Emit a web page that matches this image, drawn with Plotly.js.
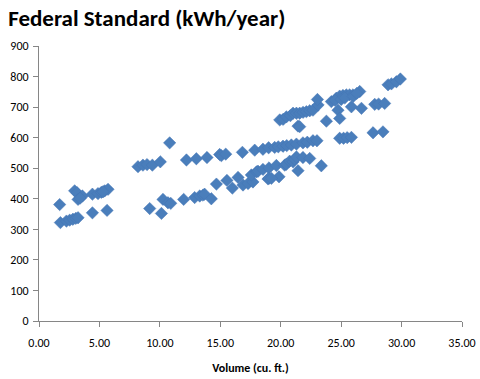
<!DOCTYPE html>
<html>
<head>
<meta charset="utf-8">
<script src="https://cdn.plot.ly/plotly-3.0.1.min.js"></script>
<style>html,body{margin:0;padding:0;background:#fff;}#chart{width:480px;height:379px;}</style>
</head>
<body>
<div id="chart"></div>
<script>
// Volume (cu. ft.)
const volume = [
  1.71,1.77,2.27,2.54,2.81,3.05,3.23,
  2.95,3.15,3.23,3.59,3.40,
  4.42,4.88,5.16,5.44,5.71,5.30,
  4.42,5.63,
  8.19,8.60,8.94,9.38,10.04,10.81,
  9.16,10.13,10.26,10.67,10.90,
  11.97,12.20,12.88,13.02,13.30,13.57,13.70,13.90,14.26,
  14.68,14.95,15.09,15.45,15.55,16.00,16.47,16.83,
  16.88,17.30,17.70,17.57,17.99,18.12,18.53,19.03,18.95,19.03,
  17.85,18.53,19.00,19.50,19.80,20.19,20.50,20.88,21.30,21.84,22.20,22.67,23.00,
  19.64,19.86,19.23,20.33,20.47,20.74,21.02,21.16,21.30,21.84,22.40,21.43,23.36,
  19.92,20.20,20.47,20.80,21.02,21.30,21.57,21.85,22.12,22.40,22.67,23.09,23.04,21.43,21.57,23.78,
  24.19,24.60,24.88,25.15,25.43,25.70,25.98,26.54,24.74,24.88,25.85,26.68,27.78,28.10,28.60,
  24.50,25.00,25.30,26.00,26.30,
  28.88,29.16,29.57,29.90,
  24.88,25.20,25.50,25.85,27.64,28.46
];
// Federal Standard (kWh/year)
const standard = [
  381,322,327,330,333,336,338,
  426,420,398,409,402,
  415,417,421,426,431,423,
  354,362,
  505,510,512,510,521,583,
  368,352,398,387,385,
  398,527,404,531,409,412,415,535,400,
  448,545,541,546,460,435,470,552,
  445,450,455,478,488,490,496,501,465,467,
  559,562,567,568,570,572,574,576,579,583,585,590,590,
  509,472,467,510,513,523,521,529,537,535,532,492,508,
  658,660,668,672,680,680,680,683,685,688,690,707,725,638,636,654,
  718,729,736,738,740,740,740,751,690,663,701,696,709,710,712,
  722,725,730,735,745,
  773,776,783,792,
  598,598,600,601,616,619
];
const xTicks = [0,5,10,15,20,25,30,35];
const yTicks = [0,100,200,300,400,500,600,700,800,900];

const trace = {
  x: volume, y: standard, type: 'scatter', mode: 'markers',
  marker: {symbol: 'diamond', size: 9.5, color: '#4a7ebb', line: {color: '#4575b4', width: 0.5}},
  hoverinfo: 'x+y'
};
const fam = 'Carlito, Calibri, Lato, "Liberation Sans", Arial, sans-serif';
const tickFont = {family: fam, size: 12, color: '#000'};
const layout = {
  width: 480, height: 379,
  margin: {l: 39, r: 18, t: 46, b: 58},
  paper_bgcolor: '#fff', plot_bgcolor: '#fff',
  showlegend: false,
  title: {text: '<b>Federal Standard (kWh/year)</b>', x: 0.017, xanchor: 'left', y: 0.952, yanchor: 'middle',
          font: {family: fam, size: 23, color: '#000'}},
  xaxis: {
    range: [0, 35], tickvals: xTicks, tickformat: '.2f',
    showgrid: false, zeroline: false, showline: true, linecolor: '#868686', linewidth: 1,
    ticks: 'outside', ticklen: 5, tickcolor: '#868686', tickfont: tickFont, ticklabelstandoff: 6,
    title: {text: '<b>Volume (cu. ft.)</b>', font: {family: fam, size: 12, color: '#000'}, standoff: 14}
  },
  yaxis: {
    range: [0, 900], tickvals: yTicks,
    showgrid: false, zeroline: false, showline: true, linecolor: '#868686', linewidth: 1,
    ticks: 'outside', ticklen: 5, tickcolor: '#868686', tickfont: tickFont, ticklabelstandoff: 2
  }
};
Plotly.newPlot('chart', [trace], layout, {displayModeBar: false, staticPlot: true});
</script>
</body>
</html>
